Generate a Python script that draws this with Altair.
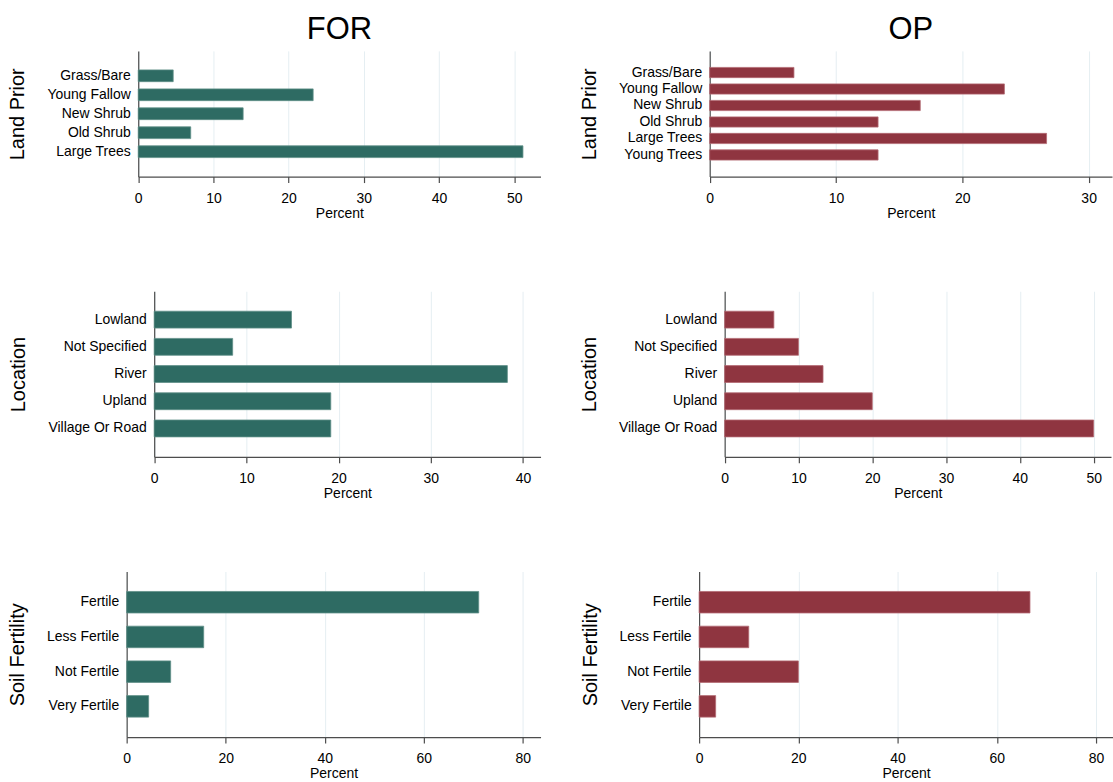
import altair as alt
import pandas as pd

# Land cover before clearing, percent of plots
land_prior_for = ["Grass/Bare", "Young Fallow", "New Shrub", "Old Shrub", "Large Trees"]
land_prior_for_pct = [4.65, 23.26, 13.95, 6.98, 51.16]
land_prior_op = ["Grass/Bare", "Young Fallow", "New Shrub", "Old Shrub", "Large Trees", "Young Trees"]
land_prior_op_pct = [6.67, 23.33, 16.67, 13.33, 26.67, 13.33]

# Plot location, percent of plots
location_cats = ["Lowland", "Not Specified", "River", "Upland", "Village Or Road"]
location_for_pct = [14.89, 8.51, 38.30, 19.15, 19.15]
location_op_pct = [6.67, 10.00, 13.33, 20.00, 50.00]

# Reported soil fertility, percent of plots
soil_cats = ["Fertile", "Less Fertile", "Not Fertile", "Very Fertile"]
soil_for_pct = [71.11, 15.56, 8.89, 4.44]
soil_op_pct = [66.67, 10.00, 20.00, 3.33]

# Axis ticks
ticks_land_for = [0, 10, 20, 30, 40, 50]
ticks_land_op = [0, 10, 20, 30]
ticks_loc_for = [0, 10, 20, 30, 40]
ticks_loc_op = [0, 10, 20, 30, 40, 50]
ticks_soil = [0, 20, 40, 60, 80]

FOR_COLOR = "#2e6b63"
FOR_EDGE = "#5f8f88"
OP_COLOR = "#8f3540"
OP_EDGE = "#b26a72"

FONT = "Liberation Sans"
AXIS_COLOR = "#4d4d4d"

# Every panel shares the same right edge; the plotted region of each row
# starts `inset` px in from the shared column origin so that the y-labels
# sit against their own axis line.
PANEL_W = 415
ROW_INSET = [11.6, 27.6, 0.0]
ROW_H = [126, 166, 166]


def panel(cats, pct, color, edge, ytitle, xmax, ticks, inset, height, title=None):
    df = pd.DataFrame({"category": cats, "percent": pct})
    n = len(cats)
    inner = 0.38
    gap = 20
    step = (height - 2 * gap) / (n - inner)
    outer = min(1.0, gap / step)
    chart = alt.Chart(df).mark_bar(color=color, stroke=edge, strokeWidth=0.8).encode(
        x=alt.X(
            "percent:Q",
            title="Percent",
            scale=alt.Scale(domain=[0, xmax], nice=False, zero=True, range=[inset, PANEL_W]),
            axis=alt.Axis(values=ticks, grid=True, labelFlush=False, tickSize=6,
                          labelPadding=9, titlePadding=1, format="d"),
        ),
        y=alt.Y(
            "category:N",
            sort=cats,
            title=ytitle,
            scale=alt.Scale(paddingInner=inner, paddingOuter=outer),
            axis=alt.Axis(ticks=False, grid=False, labelPadding=8, titlePadding=19,
                          titleFontSize=20, offset=-inset),
        ),
    ).properties(width=PANEL_W, height=height)
    if title:
        chart = chart.properties(
            title=alt.TitleParams(title, fontSize=31, font=FONT, fontWeight="normal",
                                  anchor="middle", frame="group", offset=5,
                                  dx=inset / 2, color="black")
        )
    return chart


row1 = alt.hconcat(
    panel(land_prior_for, land_prior_for_pct, FOR_COLOR, FOR_EDGE, "Land Prior", 53.5,
          ticks_land_for, ROW_INSET[0], ROW_H[0], title="FOR"),
    panel(land_prior_op, land_prior_op_pct, OP_COLOR, OP_EDGE, "Land Prior", 31.85,
          ticks_land_op, ROW_INSET[0], ROW_H[0], title="OP"),
    spacing=39,
)
row2 = alt.hconcat(
    panel(location_cats, location_for_pct, FOR_COLOR, FOR_EDGE, "Location", 41.9,
          ticks_loc_for, ROW_INSET[1], ROW_H[1]),
    panel(location_cats, location_op_pct, OP_COLOR, OP_EDGE, "Location", 52.35,
          ticks_loc_op, ROW_INSET[1], ROW_H[1]),
    spacing=39,
)
row3 = alt.hconcat(
    panel(soil_cats, soil_for_pct, FOR_COLOR, FOR_EDGE, "Soil Fertility", 83.6,
          ticks_soil, ROW_INSET[2], ROW_H[2]),
    panel(soil_cats, soil_op_pct, OP_COLOR, OP_EDGE, "Soil Fertility", 83.4,
          ticks_soil, ROW_INSET[2], ROW_H[2]),
    spacing=39,
)

chart = alt.vconcat(row1, row2, row3, spacing=71).properties(
    padding={"left": 7, "top": 13, "right": 0, "bottom": 0},
    background="white",
).configure_view(stroke=None).configure_axis(
    labelFont=FONT,
    titleFont=FONT,
    labelFontSize=14,
    titleFontSize=14,
    labelColor="black",
    titleColor="black",
    titleFontWeight="normal",
    domainColor=AXIS_COLOR,
    domainWidth=1.2,
    tickColor=AXIS_COLOR,
    tickWidth=1.2,
    gridColor="#e5eef2",
    gridWidth=1,
)

chart.save("out.html", embed_options={"renderer": "svg", "actions": False})
